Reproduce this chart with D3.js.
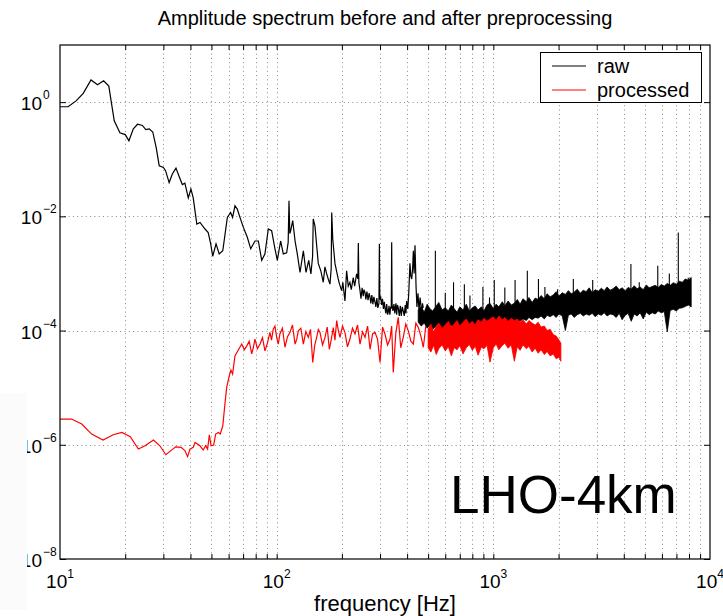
<!DOCTYPE html>
<html><head><meta charset="utf-8">
<script src="https://cdn.jsdelivr.net/npm/d3@7"></script>
<style>
body{margin:0;background:#fff}
text{font-family:"Liberation Sans",Arial,Helvetica,sans-serif;fill:#000}
</style>
</head><body>
<svg id="chart" width="723" height="616"></svg>
<script>
// ---------------- data ----------------
const rawFreq = [10,10.9,11.9,12.8,13.9,14.9,15.9,16.8,17.3,17.8,18.9,20.0,20.8,21.8,22.8,24.0,24.9,25.8,26.8,27.8,
  28.7,30.0,30.7,31.9,33.0,34.3,35.4,36.7,37.7,39.1,40.2,41.2,42.8,44.3,46.7,48.3,49.6,50.7,52.5,54.3,
  56.4,59.2,61.3,62.6,64.2,65.8,67.7,70.2,73.2,75.9,79.4,82.3,85.3,88.3,91.5,94.8,98.2,100.7,104.3,107.3,
  111.2,113.0,114.0,115.0,116.1,118.6,121.6,124.5,128.2,132.8,136.6,140.6,143.9,146.5,147.5,150.2,155.6,160.0,164.1,167.0,
  170.2,173.0,176.2,178.5,179.5,181.5,185.8,189.0,192.3,195.0,199.5,202.0,206.6,210.3,214.0,217.8,221.0,225.7,229.0,233.9,
  237.0,238.2,239.5,242.5,245,248,251,253,255.8,258,261,264,267,269.8,272,275,278,281,284.5,287,
  290,293,296.5,297.9,299.3,302.2,305,308,311,314,316.2,319,322,325,327.4,330,333,336,338,339.5,
  341,344,347.7,351,355,358,361,364.1,368,372,376,380,383.9,388,392,395,398,403,407,412.2,
  416,420,424,427.3,431,435,440,444,449,454,459,463,467,471,475];
const rawAmp = [0.83,0.83,1.06,1.42,2.44,2.02,2.37,1.91,0.93,0.47,0.29,0.27,0.21,0.34,0.41,0.39,0.33,0.34,0.30,0.16,
  0.077,0.072,0.063,0.039,0.055,0.070,0.051,0.036,0.038,0.021,0.030,0.021,0.0073,0.0078,0.0060,0.0052,0.0033,0.0020,0.0033,0.0022,
  0.0025,0.0096,0.0117,0.0096,0.0153,0.0134,0.0096,0.0064,0.0043,0.0027,0.0037,0.0037,0.0017,0.0022,0.0060,0.0056,0.0027,0.0017,0.0037,0.0022,
  0.0023,0.0035,0.0188,0.0050,0.0056,0.0084,0.0037,0.0022,0.00104,0.0025,0.00104,0.0017,0.00098,0.0020,0.0090,0.0068,0.0015,0.0011,0.00070,0.0013,
  0.00098,0.00080,0.00065,0.0012,0.0117,0.0040,0.0015,0.0011,0.00080,0.00065,0.00050,0.00070,0.00033,0.00111,0.00060,0.00070,0.00052,0.00085,0.00060,0.00098,
  0.0008,0.0034,0.0007,0.00050,3.6e-4,5.6e-4,4.0e-4,5.2e-4,4.6e-4,3.5e-4,4.8e-4,3.4e-4,4.5e-4,3.8e-4,3.0e-4,4.2e-4,2.9e-4,3.9e-4,3.1e-4,2.6e-4,
  3.7e-4,2.5e-4,3.0e-4,3.3e-3,3.5e-4,3.8e-4,2.8e-4,3.6e-4,2.4e-4,3.2e-4,2.5e-4,2.0e-4,2.9e-4,1.9e-4,2.1e-4,2.7e-4,1.9e-4,2.6e-4,2.4e-4,3.5e-3,
  2.8e-4,2.2e-4,2.9e-4,2.0e-4,3.0e-4,1.9e-4,2.8e-4,2.5e-4,1.8e-4,2.7e-4,1.8e-4,2.6e-4,2.2e-4,1.8e-4,2.8e-4,2.0e-4,3.3e-4,2.4e-4,4.5e-4,1.5e-3,
  9e-4,8e-4,1.2e-3,2.5e-3,1.0e-3,3.1e-3,5.7e-4,2.6e-4,4.5e-4,2.2e-4,3.8e-4,2.8e-4,1.7e-4,3.0e-4,2.5e-4];

const rawBandFreq = [450,465,480,495,510,525,545,560,580,600,620,640,660,680,700,725,750,775,800,825,
  850,880,905,935,965,1000,1030,1060,1100,1130,1170,1210,1250,1290,1330,1370,1420,1460,1510,1560,
  1610,1660,1720,1770,1830,1890,1950,2010,2080,2150,2220,2290,2360,2440,2520,2600,2680,2770,2860,2950,
  3050,3150,3250,3350,3460,3570,3690,3810,3930,4060,4190,4330,4470,4610,4760,4920,5080,5240,5410,5590,
  5770,5960,6150,6350,6550,6770,6990,7210,7450,7690,7940,8190];
const rawBandHigh = [2.3e-4,2.6e-4,2.1e-4,2.9e-4,2.4e-4,2.2e-4,2.7e-4,3.1e-4,2.3e-4,2.5e-4,
  2.2e-4,2.8e-4,2.4e-4,2.1e-4,2.6e-4,2.3e-4,2.9e-4,2.2e-4,2.5e-4,2.7e-4,
  2.3e-4,2.6e-4,2.2e-4,2.8e-4,3.0e-4,2.4e-4,2.9e-4,2.6e-4,3.2e-4,2.7e-4,
  3.3e-4,2.8e-4,3.0e-4,3.5e-4,2.9e-4,3.6e-4,3.2e-4,3.8e-4,3.1e-4,3.7e-4,
  3.5e-4,4.1e-4,3.6e-4,4.4e-4,3.9e-4,4.2e-4,4.8e-4,4.0e-4,4.6e-4,4.3e-4,
  5.0e-4,4.4e-4,4.7e-4,5.3e-4,4.5e-4,5.1e-4,4.8e-4,5.6e-4,4.6e-4,5.2e-4,
  4.9e-4,5.5e-4,5.0e-4,5.8e-4,5.1e-4,5.4e-4,6.0e-4,5.2e-4,5.6e-4,5.0e-4,
  5.7e-4,5.3e-4,6.1e-4,5.4e-4,5.8e-4,5.2e-4,6.3e-4,5.6e-4,5.9e-4,6.2e-4,
  5.7e-4,6.4e-4,6.0e-4,6.7e-4,6.2e-4,6.9e-4,6.5e-4,7.3e-4,7.0e-4,8.0e-4,
  7.6e-4,8.5e-4];
const rawBandLow = [1.4e-4,1.2e-4,1.35e-4,1.1e-4,1.25e-4,1.05e-4,1.2e-4,1.15e-4,0.95e-4,1.2e-4,
  1.1e-4,1.25e-4,1.0e-4,1.15e-4,1.2e-4,1.05e-4,1.15e-4,0.95e-4,1.1e-4,1.2e-4,
  1.15e-4,1.0e-4,1.2e-4,1.1e-4,1.25e-4,1.15e-4,1.3e-4,1.2e-4,1.35e-4,1.25e-4,
  1.4e-4,1.5e-4,1.35e-4,1.55e-4,1.45e-4,1.6e-4,1.5e-4,1.7e-4,1.55e-4,1.7e-4,
  1.65e-4,1.8e-4,1.6e-4,1.85e-4,1.75e-4,1.9e-4,1.7e-4,1.95e-4,1.8e-4,1.0e-4,
  1.85e-4,1.95e-4,1.7e-4,1.9e-4,2.0e-4,1.8e-4,1.95e-4,1.85e-4,2.0e-4,1.75e-4,
  1.95e-4,1.85e-4,2.05e-4,1.8e-4,1.95e-4,1.9e-4,1.7e-4,2.0e-4,1.55e-4,1.85e-4,
  2.0e-4,1.45e-4,1.95e-4,1.8e-4,2.05e-4,1.6e-4,2.1e-4,1.9e-4,2.05e-4,1.95e-4,
  2.2e-4,2.05e-4,2.15e-4,0.95e-4,2.25e-4,2.35e-4,2.2e-4,2.45e-4,2.5e-4,2.65e-4,
  2.8e-4,2.6e-4];

const rawSpikeFreq = [540,600,655,735,780,895,960,1010,1130,1260,1435,1615,1730,1980,2340,2875,4315,4715,5740,6490,7140,7940];
const rawSpikePeak = [2.5e-3,4.6e-4,7.0e-4,6.5e-4,4.1e-4,5.8e-4,3.8e-4,7.7e-4,5.7e-4,7.7e-4,1.11e-3,8.0e-4,5.8e-4,5.3e-4,8.0e-4,7.7e-4,1.46e-3,7.0e-4,1.36e-3,1.0e-3,5.2e-3,8.4e-4];
const rawSpikeBase = [1.3e-4,1.3e-4,1.2e-4,1.2e-4,1.2e-4,1.3e-4,1.3e-4,1.3e-4,1.4e-4,1.5e-4,1.7e-4,1.8e-4,1.8e-4,2.0e-4,2.0e-4,2.0e-4,2.0e-4,2.0e-4,2.2e-4,2.3e-4,2.5e-4,2.8e-4];

const procFreq = [10,11.3,12.6,14.0,15.8,17.6,19.3,21.1,23.0,24.7,27.0,28.9,30.8,32.5,34.2,36.2,37.7,38.8,39.8,41.2,
  42.0,44.3,45.8,47.0,48.0,48.9,49.8,51.2,52.3,53.8,54.9,56.4,57.8,58.8,60.2,61.5,62.6,64.2,65.4,69.0,
  70.9,72.8,74.7,76.7,78.0,79.4,81.5,83.8,86.0,88.3,90.6,93.1,94.7,96.4,98.2,100,101.7,103.5,106.3,109.2,
  112.2,115.2,118.3,121.6,123.7,125.9,129.3,132.8,136.4,140.0,143.3,146.7,149.8,153.0,155.7,158.5,162.8,167.2,171.1,175.0,
  178.7,182.5,185.8,189.2,192.6,196.0,201.3,206.6,212.2,217.8,223.8,229.9,236.2,242.5,249.1,255.8,262.8,269.8,277.2,284.5,
  292.2,300.0,308.1,316.2,324.9,333.5,339.4,345.3,354.7,364.1,374.0,383.9,394.5,405.1,416.2,427.3,439.0,450.7,463.0,475.3,488.0];
const procAmp = [2.82e-6,2.82e-6,2.31e-6,1.54e-6,1.21e-6,1.50e-6,1.64e-6,1.38e-6,8.4e-7,9.6e-7,1.21e-6,9.6e-7,6.7e-7,7.9e-7,9.2e-7,9.0e-7,7.9e-7,6.2e-7,8.4e-7,9.0e-7,
  1.10e-6,9.6e-7,8.1e-7,9.6e-7,8.4e-7,1.50e-6,9.6e-7,9.9e-7,1.54e-6,1.64e-6,1.54e-6,2.15e-6,5.5e-6,1.01e-5,1.51e-5,2.03e-5,1.73e-5,3.6e-5,4.1e-5,5.8e-5,
  4.6e-5,5.4e-5,6.5e-5,3.9e-5,5.0e-5,7.1e-5,4.8e-5,5.8e-5,7.5e-5,4.4e-5,6.0e-5,9.3e-5,6.8e-5,1.06e-4,1.2e-4,7.6e-5,5.8e-5,8.7e-5,1.1e-4,5.1e-5,
  7.8e-5,9.3e-5,1.25e-4,5.8e-5,7.0e-5,9.9e-5,1.1e-4,5.8e-5,9.6e-5,7.6e-5,1.05e-4,2.76e-5,5.5e-5,7.6e-5,1.05e-4,9.3e-5,5.6e-5,7.6e-5,1.15e-4,4.7e-5,
  7.0e-5,1.13e-4,6.8e-5,1.49e-4,1.0e-4,7.6e-5,1.2e-4,9.3e-5,5.2e-5,7.1e-5,1.1e-4,8.7e-5,1.25e-4,5.8e-5,9.5e-5,7.6e-5,1.2e-4,4.7e-5,8.8e-5,9.3e-5,
  7.0e-5,2.76e-5,1.15e-4,8.7e-5,5.6e-5,7.1e-5,1.2e-4,1.85e-5,9.0e-5,1.70e-4,5.0e-5,7.6e-5,1.3e-4,9.9e-5,6.5e-5,5.8e-5,1.35e-4,1.13e-4,8.0e-5,5.1e-5,1.2e-4];

const procBandFreq = [500,515,530,545,560,580,600,620,640,660,680,700,725,750,775,800,825,850,880,905,
  935,965,1000,1030,1060,1100,1130,1170,1210,1250,1290,1330,1370,1420,1460,1510,1560,1610,1660,1720,
  1770,1830,1890,1950,2010,2050];
const procBandHigh = [1.05e-4,1.3e-4,0.95e-4,1.2e-4,1.35e-4,1.1e-4,1.25e-4,1.45e-4,1.15e-4,1.3e-4,
  1.5e-4,1.2e-4,1.4e-4,1.6e-4,1.3e-4,1.45e-4,1.25e-4,1.55e-4,1.4e-4,1.65e-4,
  1.45e-4,1.6e-4,1.75e-4,1.5e-4,1.8e-4,1.55e-4,1.7e-4,1.45e-4,1.65e-4,1.5e-4,
  1.6e-4,1.4e-4,1.55e-4,1.3e-4,1.5e-4,1.35e-4,1.25e-4,1.4e-4,1.15e-4,1.2e-4,
  1.0e-4,1.05e-4,0.85e-4,0.8e-4,0.68e-4,0.6e-4];
const procBandLow = [5.0e-5,4.2e-5,5.5e-5,3.8e-5,4.8e-5,5.6e-5,4.4e-5,5.2e-5,3.6e-5,5.0e-5,
  4.6e-5,5.4e-5,3.9e-5,5.0e-5,5.7e-5,4.5e-5,5.3e-5,3.7e-5,5.1e-5,4.8e-5,
  5.5e-5,2.8e-5,5.0e-5,5.8e-5,4.6e-5,5.5e-5,6.0e-5,4.9e-5,5.6e-5,2.9e-5,
  5.2e-5,4.5e-5,5.6e-5,4.8e-5,5.3e-5,4.2e-5,4.9e-5,4.0e-5,4.6e-5,3.8e-5,
  4.3e-5,3.6e-5,3.9e-5,3.2e-5,3.4e-5,2.9e-5];

const xGridValues = [20,30,40,50,60,70,80,90,100,200,300,400,500,600,700,800,900,1000,2000,3000,4000,5000,6000,7000,8000,9000];
const xLabelPowers = [1,2,3,4];
const yLabelPowers = [0,-2,-4,-6,-8];
const yGridValues = [1,1e-2,1e-4,1e-6];
const seriesNames = ["raw","processed"];
const seriesColors = ["#000000","#ff0000"];
const titleText = "Amplitude spectrum before and after preprocessing";
const xAxisTitle = "frequency [Hz]";
const annotation = "LHO-4km";

// ---------------- drawing ----------------
const svg = d3.select("#chart");
const L=60, R=710, T=45, B=559;
const x = d3.scaleLog().domain([10,1e4]).range([L,R]);
const y = d3.scaleLog().domain([1e-8,10]).range([B,T]);

svg.append("defs").append("clipPath").attr("id","clip")
  .append("rect").attr("x",L).attr("y",T).attr("width",R-L).attr("height",B-T);

// grid
const grid = svg.append("g").attr("stroke","#000").attr("stroke-width",1)
  .attr("stroke-dasharray","1,3.3").attr("opacity",0.45);
grid.selectAll("line.v").data(xGridValues).join("line")
  .attr("x1",d=>Math.round(x(d))+0.5).attr("x2",d=>Math.round(x(d))+0.5).attr("y1",T).attr("y2",B);
grid.selectAll("line.h").data(yGridValues).join("line")
  .attr("y1",d=>Math.round(y(d))+0.5).attr("y2",d=>Math.round(y(d))+0.5).attr("x1",L).attr("x2",R);

const plot = svg.append("g").attr("clip-path","url(#clip)");
const line = d3.line().x(d=>x(d[0])).y(d=>y(d[1]));
const bandArea = d3.area().x(d=>x(d.f)).y0(d=>y(d.lo)).y1(d=>y(d.hi));

// raw band
const rawBand = rawBandFreq.map((f,i)=>({f,hi:rawBandHigh[i],lo:rawBandLow[i]}));
plot.append("path").datum(rawBand).attr("d",bandArea)
  .attr("fill","#000").attr("stroke","#000").attr("stroke-width",0.8).attr("stroke-linejoin","miter");
// raw spikes
plot.selectAll("line.spike").data(rawSpikeFreq).join("line")
  .attr("x1",d=>x(d)).attr("x2",d=>x(d))
  .attr("y1",(d,i)=>y(rawSpikeBase[i])).attr("y2",(d,i)=>y(rawSpikePeak[i]))
  .attr("stroke","#000").attr("stroke-width",1.1);
// raw line
plot.append("path").datum(rawFreq.map((f,i)=>[f,rawAmp[i]]))
  .attr("d",line).attr("fill","none").attr("stroke","#000").attr("stroke-width",1.2);

// processed line
plot.append("path").datum(procFreq.map((f,i)=>[f,procAmp[i]]))
  .attr("d",line).attr("fill","none").attr("stroke","#ff0000").attr("stroke-width",1.2);
// processed band
const procBand = procBandFreq.map((f,i)=>({f,hi:procBandHigh[i],lo:procBandLow[i]}));
plot.append("path").datum(procBand).attr("d",bandArea)
  .attr("fill","#ff0000").attr("stroke","#ff0000").attr("stroke-width",0.8);

// frame and ticks
const ax = svg.append("g");
ax.append("g").attr("transform",`translate(0,${B})`).call(d3.axisBottom(x).tickValues(xGridValues).tickSize(-5).tickFormat(""));
ax.append("g").attr("transform",`translate(0,${T})`).call(d3.axisTop(x).tickValues(xGridValues).tickSize(-5).tickFormat(""));
const yTicks = yLabelPowers.map(p=>Math.pow(10,p));
ax.append("g").attr("transform",`translate(${L},0)`).call(d3.axisLeft(y).tickValues(yTicks).tickSize(-6).tickFormat(""));
ax.append("g").attr("transform",`translate(${R},0)`).call(d3.axisRight(y).tickValues(yTicks).tickSize(-6).tickFormat(""));
ax.selectAll(".domain").remove();
ax.selectAll(".tick line").attr("stroke","#000");
svg.append("rect").attr("x",L).attr("y",T).attr("width",R-L).attr("height",B-T)
  .attr("fill","none").attr("stroke","#000").attr("stroke-width",1.2);

// x tick labels
xLabelPowers.forEach(p=>{
  const t = svg.append("text").attr("x",x(Math.pow(10,p))).attr("y",588)
    .attr("text-anchor","middle").attr("font-size",19);
  t.append("tspan").text("10");
  t.append("tspan").attr("dy",-10).attr("font-size",12).text(String(p));
});
// y tick labels
yLabelPowers.forEach(p=>{
  const yy = y(Math.pow(10,p));
  svg.append("text").attr("x",42).attr("y",yy+8).attr("text-anchor","end").attr("font-size",19).text("10");
  svg.append("text").attr("x",43).attr("y",yy-3).attr("text-anchor","start").attr("font-size",12)
    .text(p<0 ? "\u2212"+Math.abs(p) : String(p));
});
// faint grey patch on left edge
svg.append("rect").attr("x",0).attr("y",393).attr("width",27).attr("height",217).attr("fill","#fbfbfb");

// titles
svg.append("text").attr("x",(L+R)/2).attr("y",25).attr("text-anchor","middle").attr("font-size",20).text(titleText);
svg.append("text").attr("x",(L+R)/2).attr("y",611).attr("text-anchor","middle").attr("font-size",22).text(xAxisTitle);
svg.append("text").attr("x",450).attr("y",513).attr("font-size",53).text(annotation);

// legend
const lg = svg.append("g");
lg.append("rect").attr("x",540.5).attr("y",52.5).attr("width",161).attr("height",50)
  .attr("fill","#fff").attr("stroke","#000").attr("stroke-width",1);
seriesNames.forEach((n,i)=>{
  const ly = 66 + i*24;
  lg.append("line").attr("x1",552).attr("x2",586).attr("y1",ly).attr("y2",ly)
    .attr("stroke",seriesColors[i]).attr("stroke-width",1);
  lg.append("text").attr("x",597).attr("y",ly+7).attr("font-size",20).text(n);
});
</script>
</body></html>
